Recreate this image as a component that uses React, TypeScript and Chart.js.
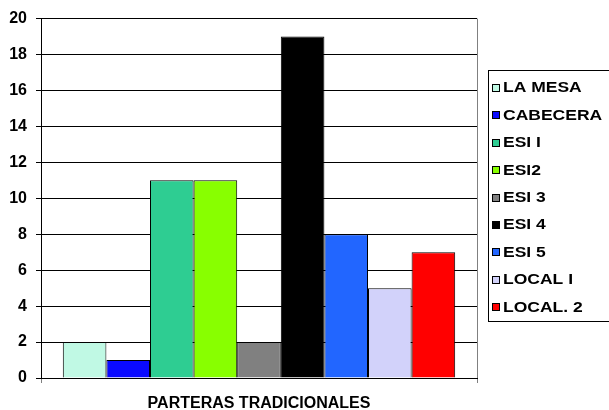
import React, { useEffect, useRef } from "react";
import { Chart, registerables } from "chart.js";

Chart.register(...registerables);

const categories = ["PARTERAS TRADICIONALES"];
const seriesNames = ["LA MESA", "CABECERA", "ESI I", "ESI2", "ESI 3", "ESI 4", "ESI 5", "LOCAL I", "LOCAL. 2"];
const seriesValues = [2, 1, 11, 11, 2, 19, 8, 5, 7];
const seriesColors = ["#C0F9E4", "#0A0AFF", "#2ECD92", "#88FF00", "#808080", "#000000", "#2266FF", "#D2D2FA", "#FF0000"];
const yMin = 0;
const yMax = 20;
const yStep = 2;

const FONT = "'Liberation Sans', Arial, sans-serif";

const legendPlugin = {
  id: "boxLegend",
  afterDraw(chart: any) {
    const ctx = chart.ctx;
    const boxL = 488.5, boxT = 70.5, boxW = 160, boxH = 251;
    ctx.save();
    ctx.strokeStyle = "#000";
    ctx.lineWidth = 1;
    ctx.strokeRect(boxL, boxT, boxW, boxH);
    const startY = 88;
    const stepY = 27.4;
    chart.data.datasets.forEach((ds: any, i: number) => {
      const cy = startY + i * stepY;
      const sx = 492;
      const sy = Math.round(cy - 4) + 0.5;
      ctx.fillStyle = ds.backgroundColor;
      ctx.fillRect(sx + 0.5, sy, 7, 7);
      ctx.strokeStyle = "#000";
      ctx.strokeRect(sx + 0.5, sy, 7, 7);
      ctx.save();
      ctx.translate(503, cy);
      ctx.scale(1.25, 1);
      ctx.fillStyle = "#000";
      ctx.font = `bold 14px ${FONT}`;
      ctx.textBaseline = "middle";
      ctx.textAlign = "left";
      ctx.fillText(ds.label, 0, 0.5);
      ctx.restore();
    });
    ctx.restore();
  },
};

export default function App() {
  const ref = useRef<HTMLCanvasElement>(null);
  useEffect(() => {
    if (!ref.current) return;
    const chart = new Chart(ref.current, {
      type: "bar",
      data: {
        labels: categories,
        datasets: seriesNames.map((name, i) => ({
          label: name,
          data: [seriesValues[i]],
          backgroundColor: seriesColors[i],
          borderColor: "#000",
          borderWidth: 1,
          categoryPercentage: 0.9,
          barPercentage: 1,
        })),
      },
      options: {
        animation: false,
        responsive: false,
        maintainAspectRatio: false,
        layout: { padding: { top: 15, right: 132, left: 0, bottom: 0 } },
        plugins: {
          legend: { display: false },
          tooltip: { enabled: false },
          title: { display: false },
        },
        scales: {
          x: {
            grid: { color: "#808080", lineWidth: 1, tickLength: 5, drawTicks: true },
            border: { color: "#000", width: 1 },
            ticks: {
              color: "#000",
              font: { family: FONT, size: 16, weight: "bold", lineHeight: 1 },
              padding: 13,
            },
            afterFit: (s: any) => { s.height = 32; },
          },
          y: {
            min: yMin,
            max: yMax,
            ticks: {
              stepSize: yStep,
              color: "#000",
              font: { family: FONT, size: 16, weight: "bold" },
              padding: 9,
            },
            grid: { color: "#000", lineWidth: 1, tickLength: 5, drawTicks: true },
            border: { color: "#000", width: 1 },
            afterFit: (s: any) => { s.width = 41; },
          },
        },
      },
      plugins: [legendPlugin],
    });
    return () => chart.destroy();
  }, []);
  return (
    <div style={{ position: "fixed", left: 0, top: 0, width: 609, height: 410, background: "#fff" }}>
      <canvas ref={ref} width={609} height={410} style={{ width: 609, height: 410 }} />
    </div>
  );
}
